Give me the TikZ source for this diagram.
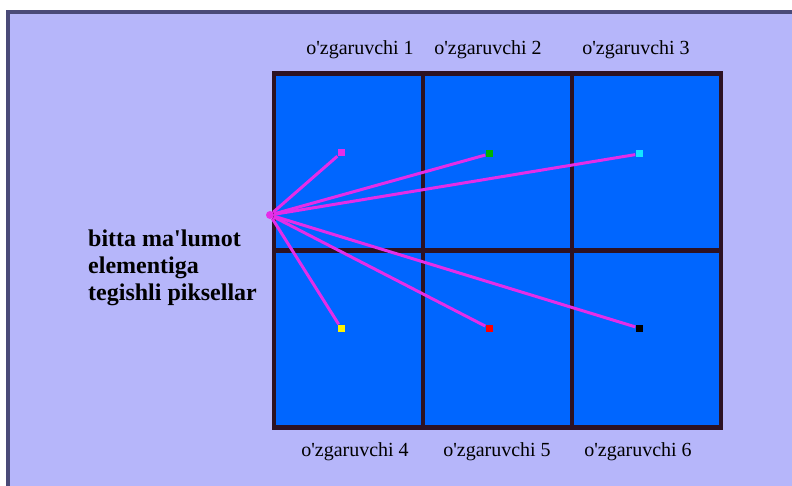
\documentclass[tikz,border=0pt]{standalone}
\usepackage{fontspec}
\setmainfont{Liberation Serif}
\usepackage{tikz}
\usetikzlibrary{positioning}
\usepackage{xcolor}

\definecolor{panelbg}{RGB}{182,182,250}
\definecolor{panelrim}{RGB}{74,74,120}
\definecolor{cellblue}{RGB}{0,102,255}
\definecolor{gridline}{RGB}{45,18,35}
\definecolor{raycol}{RGB}{228,45,232}
\definecolor{pixcyan}{RGB}{20,230,255}

\newcommand{\qt}{\textquotesingle}

\begin{document}
\begin{tikzpicture}[
    x=1pt, y=-1pt,
    cell/.style={draw=gridline, line width=4.5pt, fill=cellblue, minimum width=149pt, minimum height=177pt, inner sep=0pt},
    pix/.style={rectangle, fill=#1, minimum size=7pt, inner sep=0pt},
    ray/.style={draw=raycol, line width=3pt},
    lbl/.style={font=\fontsize{20}{22}\selectfont, inner sep=0pt}
]

\useasboundingbox (0,0) rectangle (792,486);
\fill[white] (0,0) rectangle (792,486);
\fill[panelbg] (8,12) rectangle (792,486);
\draw[panelrim, line width=4pt] (8,486) -- (8,12) -- (792,12);

% grid of variables
\node[cell] (c1) at (348.5,162) {};
\node[cell] (c2) at (497.5,162) {};
\node[cell] (c3) at (646.5,162) {};
\node[cell] (c4) at (348.5,339) {};
\node[cell] (c5) at (497.5,339) {};
\node[cell] (c6) at (646.5,339) {};

\node[lbl] (l1) at (360,50) {o\qt zgaruvchi 1};
\node[lbl] (l2) at (488,50) {o\qt zgaruvchi 2};
\node[lbl] (l3) at (636,50) {o\qt zgaruvchi 3};
\node[lbl] (l4) at (355,452) {o\qt zgaruvchi 4};
\node[lbl] (l5) at (497,452) {o\qt zgaruvchi 5};
\node[lbl] (l6) at (638,452) {o\qt zgaruvchi 6};

\node[anchor=west, align=left, inner sep=0pt, font=\fontsize{24}{27}\selectfont\bfseries] (txt) at (88,268)
{bitta ma\qt lumot\\elementiga\\tegishli piksellar};

% pixels
\node[pix=raycol] (p1) at (341,153) {};
\node[pix={green!70!black}] (p2) at (489,154) {};
\node[pix=pixcyan] (p3) at (639,154) {};
\node[pix=yellow] (p4) at (341,328) {};
\node[pix=red] (p5) at (489,328) {};
\node[pix=black] (p6) at (639,328) {};

\node[circle, fill=raycol, minimum size=8pt, inner sep=0pt] (src) at (270,215) {};

\draw[ray] (src) -- (p1);
\draw[ray] (src) -- (p2);
\draw[ray] (src) -- (p3);
\draw[ray] (src) -- (p4);
\draw[ray] (src) -- (p5);
\draw[ray] (src) -- (p6);

\end{tikzpicture}
\end{document}
